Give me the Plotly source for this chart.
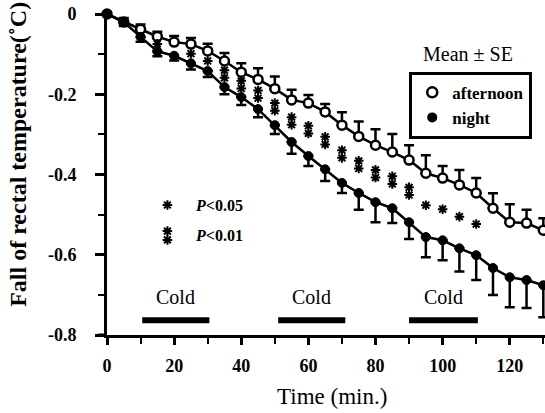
import plotly.graph_objects as go

# ---- data ----
times = [0, 5, 10, 15, 20, 25, 30, 35, 40, 45, 50, 55, 60, 65, 70, 75, 80, 85, 90,
         95, 100, 105, 110, 115, 120, 125, 130]
afternoon = [0, -0.02, -0.038, -0.056, -0.07, -0.075, -0.092, -0.117, -0.145, -0.163,
             -0.186, -0.214, -0.222, -0.244, -0.277, -0.305, -0.327, -0.344, -0.364,
             -0.397, -0.409, -0.426, -0.446, -0.484, -0.519, -0.521, -0.539]
afternoon_se = [0.005, 0.01, 0.012, 0.012, 0.015, 0.015, 0.018, 0.02, 0.022, 0.028,
                0.03, 0.025, 0.02, 0.02, 0.032, 0.037, 0.04, 0.045, 0.037, 0.045,
                0.03, 0.037, 0.037, 0.037, 0.045, 0.033, 0.03]
night = [0, -0.02, -0.057, -0.093, -0.104, -0.123, -0.142, -0.182, -0.207, -0.237,
         -0.277, -0.319, -0.354, -0.387, -0.421, -0.446, -0.469, -0.484, -0.519,
         -0.556, -0.564, -0.584, -0.601, -0.633, -0.656, -0.663, -0.676]
night_se = [0.005, 0.01, 0.012, 0.012, 0.012, 0.015, 0.015, 0.018, 0.02, 0.02,
            0.022, 0.029, 0.025, 0.029, 0.025, 0.042, 0.05, 0.037, 0.042, 0.05,
            0.05, 0.058, 0.062, 0.067, 0.075, 0.07, 0.08]

sig_times = [15, 25, 30, 35, 40, 45, 50, 55, 60, 65, 70, 75, 80, 85, 90, 95, 100, 105, 110]
sig_levels = [1, 1, 1, 2, 2, 2, 2, 2, 2, 2, 2, 2, 2, 2, 2, 1, 1, 1, 1]  # 1: P<0.05, 2: P<0.01

cold_start = [10.5, 51, 90]
cold_end = [30.5, 71, 110.5]
cold_label = "Cold"

x_tickvals = [0, 20, 40, 60, 80, 100, 120]
x_ticktext = ["0", "20", "40", "60", "80", "100", "120"]
x_minor = [10, 30, 50, 70, 90, 110, 130]
y_tickvals = [-0.8, -0.6, -0.4, -0.2, 0]
y_ticktext = ["-0.8", "-0.6", "-0.4", "-0.2", "0"]
y_minor = [-0.7, -0.5, -0.3, -0.1]

SERIF = "Liberation Serif"
BLACK = "#000000"

fig = go.Figure()

# afternoon (open circles, SE upward)
fig.add_trace(go.Scatter(
    x=times, y=afternoon, mode="lines+markers", name="afternoon", showlegend=False,
    line=dict(color=BLACK, width=2.5),
    marker=dict(symbol="circle", size=9, color="white", line=dict(color=BLACK, width=2.5)),
    error_y=dict(type="data", symmetric=False, array=afternoon_se,
                 arrayminus=[0] * len(times), color=BLACK, thickness=2.5, width=5),
    cliponaxis=False,
))
# night (filled circles, SE downward)
fig.add_trace(go.Scatter(
    x=times, y=night, mode="lines+markers", name="night", showlegend=False,
    line=dict(color=BLACK, width=2.5),
    marker=dict(symbol="circle", size=9, color=BLACK, line=dict(color=BLACK, width=1)),
    error_y=dict(type="data", symmetric=False, array=[0] * len(times),
                 arrayminus=night_se, color=BLACK, thickness=2.5, width=5),
    cliponaxis=False,
))

# significance asterisks between the two curves
idx = {t: i for i, t in enumerate(times)}
mid = [(afternoon[idx[t]] + night[idx[t]]) / 2 for t in sig_times]
off = 0.0095
sx, sy = [], []
for t, m, lv in zip(sig_times, mid, sig_levels):
    if lv == 1:
        sx.append(t); sy.append(m)
    else:
        sx += [t, t]; sy += [m + off, m - off]
star = dict(symbol="asterisk-open", size=8, color=BLACK, line=dict(color=BLACK, width=2))
fig.add_trace(go.Scatter(x=sx, y=sy, mode="markers", showlegend=False,
                         hoverinfo="skip", marker=star))

# key for asterisks
key_x = 18
fig.add_trace(go.Scatter(x=[key_x, key_x, key_x], y=[-0.476, -0.541, -0.563],
                         mode="markers", showlegend=False, hoverinfo="skip", marker=star))
fig.add_annotation(x=25.5, y=-0.476, xanchor="left", yanchor="middle", showarrow=False,
                   text="<b><i>P</i>&lt;0.05</b>", font=dict(family=SERIF, size=16, color=BLACK))
fig.add_annotation(x=25.5, y=-0.552, xanchor="left", yanchor="middle", showarrow=False,
                   text="<b><i>P</i>&lt;0.01</b>", font=dict(family=SERIF, size=16, color=BLACK))

# legend-only entries
fig.add_trace(go.Scatter(x=[None], y=[None], mode="markers", name="afternoon",
                         marker=dict(symbol="circle", size=10, color="white",
                                     line=dict(color=BLACK, width=2.5))))
fig.add_trace(go.Scatter(x=[None], y=[None], mode="markers", name="night",
                         marker=dict(symbol="circle", size=10, color=BLACK)))

# cold periods
for s, e in zip(cold_start, cold_end):
    fig.add_shape(type="line", x0=s, x1=e, y0=-0.763, y1=-0.763, xref="x", yref="y",
                  line=dict(color=BLACK, width=6))
    fig.add_annotation(x=(s + e) / 2, y=-0.706, text=cold_label, showarrow=False,
                       xanchor="center", yanchor="middle",
                       font=dict(family=SERIF, size=20, color=BLACK))

fig.add_annotation(x=107.5, y=-0.1, text="Mean ± SE", showarrow=False,
                   xanchor="center", yanchor="middle",
                   font=dict(family=SERIF, size=20, color=BLACK))

# axis titles
fig.add_annotation(xref="paper", yref="paper", x=0.514, y=-0.19, text="Time (min.)",
                   showarrow=False, xanchor="center", yanchor="middle",
                   font=dict(family=SERIF, size=23, color=BLACK))
fig.add_annotation(xref="paper", yref="paper", x=-0.205, y=0.555, textangle=-90,
                   text="<b>Fall of rectal temperature(˚C)</b>", showarrow=False,
                   xanchor="center", yanchor="middle",
                   font=dict(family=SERIF, size=24, color=BLACK))

# extend x-axis line slightly left of the y axis
fig.add_shape(type="line", xref="paper", yref="paper", x0=-0.02, x1=0, y0=0, y1=0,
              line=dict(color=BLACK, width=3))

fig.update_layout(
    width=545, height=413,
    margin=dict(l=107, r=0, t=10, b=78, autoexpand=False),
    plot_bgcolor="white", paper_bgcolor="white",
    showlegend=True,
    legend=dict(x=0.69, y=0.81, xanchor="left", yanchor="top",
                bgcolor="white", bordercolor=BLACK, borderwidth=3,
                font=dict(family=SERIF, size=17, color=BLACK, weight="bold"),
                tracegroupgap=0, itemwidth=30),
    xaxis=dict(range=[0, 130.5], showgrid=False, zeroline=False, automargin=False,
               showline=True, linecolor=BLACK, linewidth=3,
               tickmode="array", tickvals=x_tickvals, ticktext=x_ticktext,
               ticks="outside", ticklen=7, tickwidth=2.5, tickcolor=BLACK,
               ticklabelstandoff=5,
               minor=dict(tickmode="array", tickvals=x_minor, ticks="outside",
                          ticklen=6, tickwidth=2, tickcolor=BLACK, showgrid=False),
               tickfont=dict(family=SERIF, size=18, color=BLACK, weight="bold")),
    yaxis=dict(range=[-0.8, 0.01], showgrid=False, zeroline=False, automargin=False,
               showline=True, linecolor=BLACK, linewidth=3,
               tickmode="array", tickvals=y_tickvals, ticktext=y_ticktext,
               ticks="outside", ticklen=9, tickwidth=2.5, tickcolor=BLACK,
               ticklabelstandoff=15,
               minor=dict(tickmode="array", tickvals=y_minor, ticks="outside",
                          ticklen=6, tickwidth=2, tickcolor=BLACK, showgrid=False),
               tickfont=dict(family=SERIF, size=18, color=BLACK, weight="bold")),
)

fig.write_html("out.html", config={"displayModeBar": False},
               post_script="document.body.style.margin='0';document.body.style.padding='0';")
